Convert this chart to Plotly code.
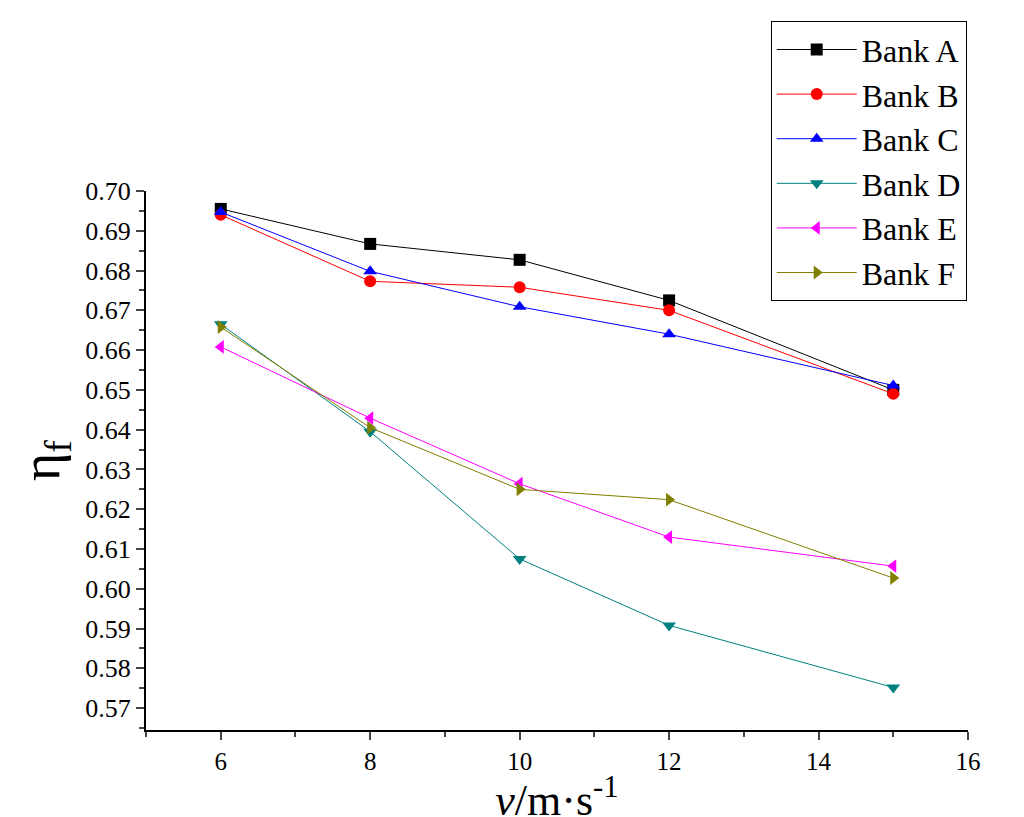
import plotly.graph_objects as go

v = [6, 8, 10, 12, 15]
bank_a = [0.6955, 0.6867, 0.6827, 0.6725, 0.6500]
bank_b = [0.6940, 0.6773, 0.6758, 0.6700, 0.6490]
bank_c = [0.6947, 0.6798, 0.6709, 0.6640, 0.6511]
bank_d = [0.6665, 0.6395, 0.6075, 0.5908, 0.5752]
bank_e = [0.6608, 0.6429, 0.6264, 0.6130, 0.6057]
bank_f = [0.6658, 0.6405, 0.6250, 0.6224, 0.6027]
names = ["Bank A", "Bank B", "Bank C", "Bank D", "Bank E", "Bank F"]

series = [bank_a, bank_b, bank_c, bank_d, bank_e, bank_f]
colors = ["black", "red", "blue", "#008080", "magenta", "#808000"]
symbols = ["square", "circle", "triangle-up", "triangle-down", "triangle-left", "triangle-right"]

fig = go.Figure()
for n, s, c, m in zip(names, series, colors, symbols):
    fig.add_trace(go.Scatter(x=v, y=s, name=n, mode="lines+markers",
                             line=dict(color=c, width=1),
                             marker=dict(symbol=m, color=c, size=12)))

font = "Liberation Serif, Times New Roman, serif"
fig.update_layout(
    width=1024, height=817, plot_bgcolor="white", paper_bgcolor="white",
    margin=dict(l=138, r=64, t=183, b=95),
    font=dict(family=font, color="black"),
    legend=dict(x=0.76, y=1.315, xanchor="left", yanchor="top",
                bordercolor="black", borderwidth=1, font=dict(size=32),
                bgcolor="white", tracegroupgap=0, itemwidth=80),
    xaxis=dict(range=[5, 16], tickvals=[6, 8, 10, 12, 14, 16], ticks="outside",
               ticklen=8, tickwidth=2, showline=True, linewidth=2, linecolor="black",
               showgrid=False, zeroline=False, tickfont=dict(size=25), automargin=False,
               minor=dict(dtick=1, ticks="outside", ticklen=5, tickwidth=2, tick0=5),
               title=dict(text="<i>v</i>/m·s<sup>-1</sup>", font=dict(size=44), standoff=0)),
    yaxis=dict(range=[0.5645, 0.70], tickvals=[0.57 + 0.01 * i for i in range(14)],
               tickformat=".2f", ticks="outside", ticklen=8, tickwidth=2,
               showline=True, linewidth=2, linecolor="black", showgrid=False,
               zeroline=False, tickfont=dict(size=26), automargin=False,
               minor=dict(dtick=0.005, tick0=0.565, ticks="outside", ticklen=5, tickwidth=2),
               title=dict(text="η<sub>f</sub>", font=dict(size=54), standoff=8)),
)
fig.write_html("out.html")
